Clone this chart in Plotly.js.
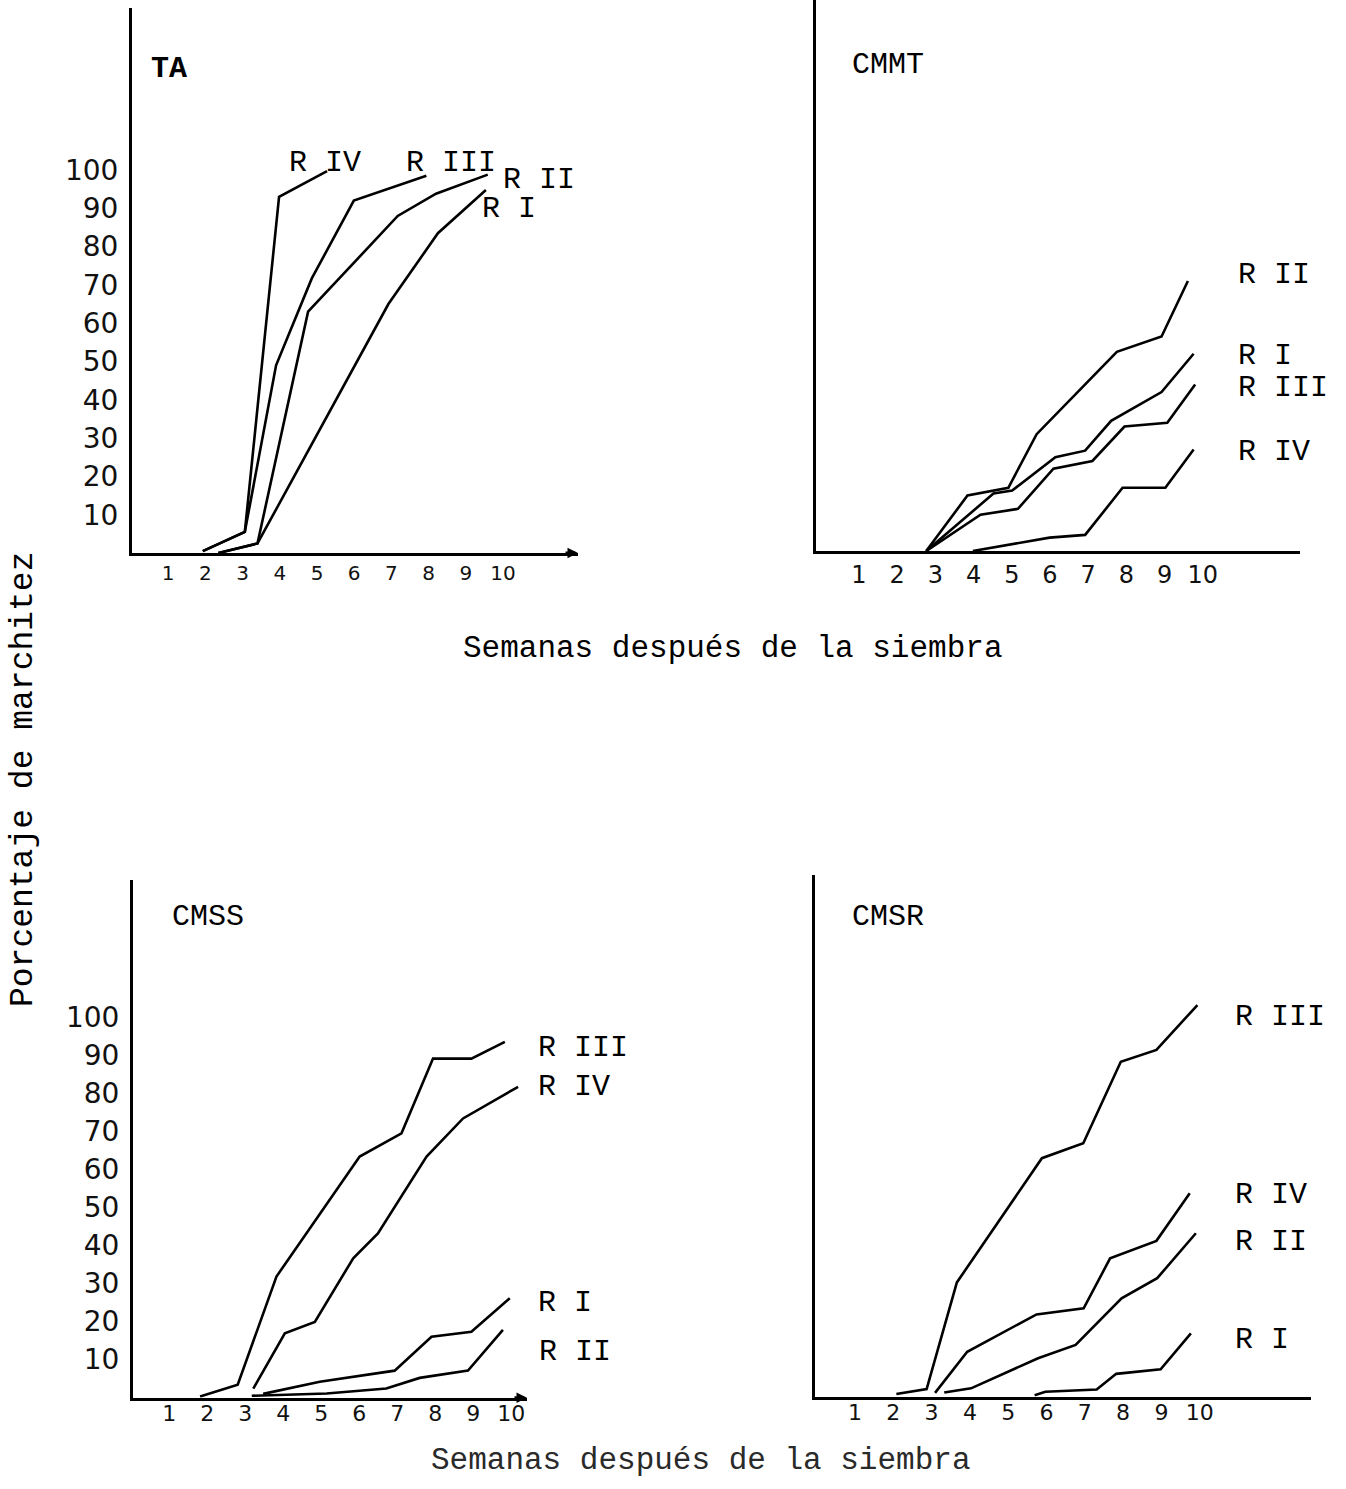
<!DOCTYPE html>
<html>
<head>
<meta charset="utf-8">
<script src="https://cdn.plot.ly/plotly-3.0.1.min.js"></script>
<style>html,body{margin:0;padding:0;background:#ffffff;}</style>
</head>
<body>
<div id="chart" style="width:1346px;height:1489px;"></div>
<script>
// ---------------- DATA (weeks after sowing, % wilting) ----------------
const weekTicks = [1, 2, 3, 4, 5, 6, 7, 8, 9, 10];
const weekTickText = ["1", "2", "3", "4", "5", "6", "7", "8", "9", "10"];
const pctTicks = [10, 20, 30, 40, 50, 60, 70, 80, 90, 100];
const pctTickText = ["10", "20", "30", "40", "50", "60", "70", "80", "90", "100"];
const replicateNames = ["R I", "R II", "R III", "R IV"];
const panelNames = ["TA", "CMMT", "CMSS", "CMSR"];
const xTitle = "Semanas después de la siembra";
const yTitle = "Porcentaje de marchitez";

// TA
const taWeeksRI    = [2.35, 3.4, 6.92, 8.25, 9.54];
const taPctRI      = [0, 2.5, 65, 83.5, 94.8];
const taWeeksRII   = [2.35, 3.4, 4.76, 7.17, 8.2, 9.59];
const taPctRII     = [0, 2.5, 63, 88, 93.8, 98.8];
const taWeeksRIII  = [1.93, 3.06, 3.9, 4.86, 5.99, 7.94];
const taPctRIII    = [0.5, 5.5, 49, 71.7, 92, 98.5];
const taWeeksRIV   = [1.93, 3.06, 3.98, 5.27];
const taPctRIV     = [0.5, 5.5, 93, 99.7];

// CMMT
const cmmtWeeksRI   = [2.76, 4.52, 5.01, 6.14, 6.92, 7.6, 8.92, 9.76];
const cmmtPctRI     = [0, 15, 15.8, 24.5, 26.2, 34, 41.5, 51.5];
const cmmtWeeksRII  = [2.76, 3.84, 4.91, 5.65, 7.75, 8.92, 9.61];
const cmmtPctRII    = [0, 14.5, 16.5, 30.5, 52, 56, 70.5];
const cmmtWeeksRIII = [2.76, 4.18, 5.16, 6.09, 7.11, 7.95, 9.07, 9.8];
const cmmtPctRIII   = [0, 9.5, 11, 21.5, 23.5, 32.5, 33.5, 43.5];
const cmmtWeeksRIV  = [3.98, 5.99, 6.92, 7.9, 9.02, 9.76];
const cmmtPctRIV    = [0, 3.5, 4.2, 16.5, 16.5, 26.5];

// CMSS
const cmssWeeksRI   = [3.47, 4.96, 6.93, 7.9, 8.95, 9.96];
const cmssPctRI     = [1, 4.2, 7.1, 16, 17.3, 26.1];
const cmssWeeksRII  = [3.17, 5.14, 6.71, 7.59, 8.86, 9.78];
const cmssPctRII    = [0.5, 1.1, 2.4, 5.2, 7.1, 17.8];
const cmssWeeksRIII = [1.81, 2.8, 3.82, 6.01, 7.11, 7.94, 8.95, 9.83];
const cmssPctRIII   = [0.3, 3.4, 31.8, 63.3, 69.4, 89, 89, 93.4];
const cmssWeeksRIV  = [3.21, 4.04, 4.83, 5.84, 6.49, 7.77, 8.73, 10.18];
const cmssPctRIV    = [2.4, 16.9, 19.9, 36.6, 43.1, 63.3, 73.3, 81.6];

// CMSR
const cmsrWeeksRI   = [5.69, 5.97, 7.31, 7.82, 8.98, 9.77];
const cmsrPctRI     = [0.4, 1.3, 1.9, 6, 7.2, 16.6];
const cmsrWeeksRII  = [3.33, 4.03, 5.78, 6.76, 7.96, 8.89, 9.9];
const cmsrPctRII    = [1.1, 2.2, 10.1, 13.6, 25.8, 31.1, 42.9];
const cmsrWeeksRIII = [2.08, 2.87, 3.66, 5.88, 6.96, 7.94, 8.87, 9.94];
const cmsrPctRIII   = [0.7, 2.0, 30, 62.6, 66.5, 87.9, 91, 102.8];
const cmsrWeeksRIV  = [3.09, 3.93, 5.74, 6.97, 7.66, 8.87, 9.74];
const cmsrPctRIV    = [1.0, 11.8, 21.6, 23.2, 36.3, 40.9, 53.4];

// ---------------- LAYOUT ----------------
const W = 1346, H = 1489;
const fx = px => px / W;
const fy = py => 1 - py / H;

const MONO = '"Liberation Mono", "DejaVu Sans Mono", monospace';
const HAND = '"DejaVu Sans", sans-serif';

// panel geometry (pixels)
const geo = [
  {ax: '',  left: 132, right: 578,  top: 8,   zero: 553,    week0: 131,   pxW: 37.2, pxU: 3.83, yTicks: true,  arrow: true,  tickSize: 20, tickStand: 0},
  {ax: '2', left: 816, right: 1300, top: 0,   zero: 551,    week0: 820.8, pxW: 38.2, pxU: 3.83, yTicks: false, arrow: false, tickSize: 24, tickStand: 0},
  {ax: '3', left: 133, right: 527,  top: 880, zero: 1397.7, week0: 131.3, pxW: 38.0, pxU: 3.81, yTicks: true,  arrow: true,  tickSize: 22, tickStand: -6},
  {ax: '4', left: 815, right: 1311, top: 875, zero: 1396.7, week0: 816.7, pxW: 38.3, pxU: 3.81, yTicks: false, arrow: false, tickSize: 22, tickStand: -6}
];

const seriesByPanel = [
  [[taWeeksRI, taPctRI], [taWeeksRII, taPctRII], [taWeeksRIII, taPctRIII], [taWeeksRIV, taPctRIV]],
  [[cmmtWeeksRI, cmmtPctRI], [cmmtWeeksRII, cmmtPctRII], [cmmtWeeksRIII, cmmtPctRIII], [cmmtWeeksRIV, cmmtPctRIV]],
  [[cmssWeeksRI, cmssPctRI], [cmssWeeksRII, cmssPctRII], [cmssWeeksRIII, cmssPctRIII], [cmssWeeksRIV, cmssPctRIV]],
  [[cmsrWeeksRI, cmsrPctRI], [cmsrWeeksRII, cmsrPctRII], [cmsrWeeksRIII, cmsrPctRIII], [cmsrWeeksRIV, cmsrPctRIV]]
];

const traces = [];
const layout = {
  width: W, height: H,
  margin: {l: 0, r: 0, t: 0, b: 0},
  paper_bgcolor: '#ffffff', plot_bgcolor: 'rgba(0,0,0,0)',
  showlegend: false,
  annotations: []
};

geo.forEach((g, i) => {
  const xa = 'x' + g.ax, ya = 'y' + g.ax;
  seriesByPanel[i].forEach((s, k) => {
    traces.push({
      type: 'scatter', mode: 'lines', name: replicateNames[k],
      x: s[0], y: s[1], xaxis: xa, yaxis: ya,
      line: {color: '#000000', width: 2.6},
      hoverinfo: 'skip'
    });
  });
  layout['xaxis' + g.ax] = {
    domain: [fx(g.left), fx(g.right)],
    range: [(g.left - g.week0) / g.pxW, (g.right - g.week0) / g.pxW],
    anchor: ya, showgrid: false, zeroline: false,
    showline: true, linecolor: '#000000', linewidth: 3,
    ticks: '', tickvals: weekTicks, ticktext: weekTickText,
    ticklabelstandoff: g.tickStand,
    tickfont: {family: HAND, size: g.tickSize, color: '#111111'},
    fixedrange: true
  };
  layout['yaxis' + g.ax] = {
    domain: [fy(g.zero), fy(g.top)],
    range: [0, (g.zero - g.top) / g.pxU],
    anchor: xa, showgrid: false, zeroline: false,
    showline: true, linecolor: '#000000', linewidth: 3,
    ticks: '',
    tickvals: g.yTicks ? pctTicks : [],
    ticktext: g.yTicks ? pctTickText : [],
    showticklabels: g.yTicks,
    ticklabelstandoff: 5,
    tickfont: {family: HAND, size: 28, color: '#111111'},
    fixedrange: true
  };
  if (g.arrow) {
    const xmax = (g.right - g.week0) / g.pxW;
    layout.annotations.push({
      xref: xa, yref: ya, x: xmax, y: 0, ax: -14, ay: 0, axref: 'pixel', ayref: 'pixel',
      text: '', showarrow: true, arrowhead: 2, arrowsize: 0.7, arrowwidth: 3, arrowcolor: '#000000'
    });
  }
});

// text labels (pixel positions: left edge, vertical centre)
function label(text, px, py, size, opts) {
  layout.annotations.push(Object.assign({
    xref: 'paper', yref: 'paper', x: fx(px), y: fy(py),
    xanchor: 'left', yanchor: 'middle', showarrow: false,
    text: text, font: {family: MONO, size: size, color: '#000000'}
  }, opts || {}));
}

const panelLabelPos = [[149, 69], [850, 65], [170, 917], [850, 917]];
panelLabelPos.forEach((p, i) => label(i === 0 ? '<b>' + panelNames[i] + '</b>' : panelNames[i], p[0], p[1], 30));

// replicate label positions per panel, ordered R I, R II, R III, R IV
const repLabelPos = [
  [[480, 209], [501, 180], [404, 163], [287, 163]],
  [[1236, 356], [1236, 275], [1236, 388], [1236, 452]],
  [[536, 1303], [537, 1352], [536, 1048], [536, 1087]],
  [[1233, 1340], [1233, 1242], [1233, 1017], [1233, 1195]]
];
repLabelPos.forEach(panel => panel.forEach((p, k) => label(replicateNames[k], p[0], p[1], 30)));

// axis titles
layout.annotations.push({
  xref: 'paper', yref: 'paper', x: fx(733), y: fy(648), xanchor: 'center', yanchor: 'middle',
  showarrow: false, text: xTitle, font: {family: MONO, size: 31, color: '#000000'}
});
layout.annotations.push({
  xref: 'paper', yref: 'paper', x: fx(701), y: fy(1460), xanchor: 'center', yanchor: 'middle',
  showarrow: false, text: xTitle, font: {family: MONO, size: 31, color: '#2a2a2a'}
});
layout.annotations.push({
  xref: 'paper', yref: 'paper', x: fx(24), y: fy(780), xanchor: 'center', yanchor: 'middle',
  showarrow: false, textangle: -90, text: yTitle, font: {family: MONO, size: 33, color: '#000000'}
});

Plotly.newPlot('chart', traces, layout, {staticPlot: true, displayModeBar: false});
</script>
</body>
</html>
